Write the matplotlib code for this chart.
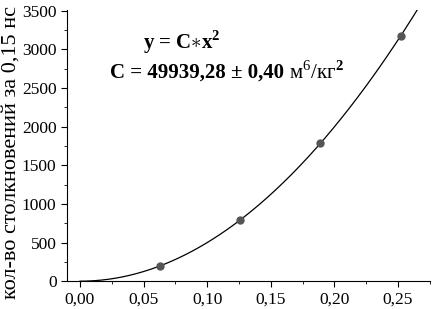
import numpy as np
import matplotlib
matplotlib.use("Agg")
import matplotlib.pyplot as plt
from matplotlib.ticker import MultipleLocator, FuncFormatter

plt.rcParams["font.family"] = ["Liberation Serif", "DejaVu Serif"]
plt.rcParams["mathtext.fontset"] = "custom"
plt.rcParams["mathtext.rm"] = "Liberation Serif"
plt.rcParams["mathtext.bf"] = "Liberation Serif:bold"

# data
x_pts = [0.063, 0.126, 0.189, 0.252]
y_pts = [198, 793, 1784, 3171]
C_FIT = 49939.28

fig = plt.figure(figsize=(4.32, 3.09), dpi=100)
ax = fig.add_axes([0.155, 0.09, 0.84, 0.878])

xf = np.linspace(0, 0.275, 300)
ax.plot(xf, C_FIT * xf ** 2, color="black", lw=0.9)
ax.plot(x_pts, y_pts, "o", color="#555555", ms=5, zorder=3)

ax.set_xlim(-0.0102, 0.275)
ax.set_ylim(0, 3510)
ax.xaxis.set_major_locator(MultipleLocator(0.05))
ax.xaxis.set_minor_locator(MultipleLocator(0.025))
ax.yaxis.set_major_locator(MultipleLocator(500))
ax.yaxis.set_minor_locator(MultipleLocator(250))
ax.xaxis.set_major_formatter(FuncFormatter(lambda v, p: f"{v:.2f}".replace(".", ",")))
ax.tick_params(which="both", direction="out", labelsize=12.5)
ax.tick_params(which="major", length=4)
ax.tick_params(which="minor", length=2.5)
for s in ("top", "right"):
    ax.spines[s].set_visible(False)

# y label placed by hand so it can run off the top like in the original
fig.text(0.026, 0.505, "кол-во столкновений за 0,15 нс", fontsize=16,
         rotation=90, ha="center", va="center")

fig.text(0.42, 0.862, r"y = C$\ast$x$^{\mathbf{2}}$", fontsize=15,
         fontweight="bold", ha="center", va="center")
t1 = fig.text(0.2546, 0.765, "C = 49939,28 ± 0,40 ", fontsize=15,
              fontweight="bold", ha="left", va="center")
fig.canvas.draw()
bb = t1.get_window_extent().transformed(fig.transFigure.inverted())
fig.text(bb.x1, 0.765, "м$^{6}$/кг$^{\\mathbf{2}}$", fontsize=15,
         ha="left", va="center")

fig.savefig("out.png", dpi=100)
